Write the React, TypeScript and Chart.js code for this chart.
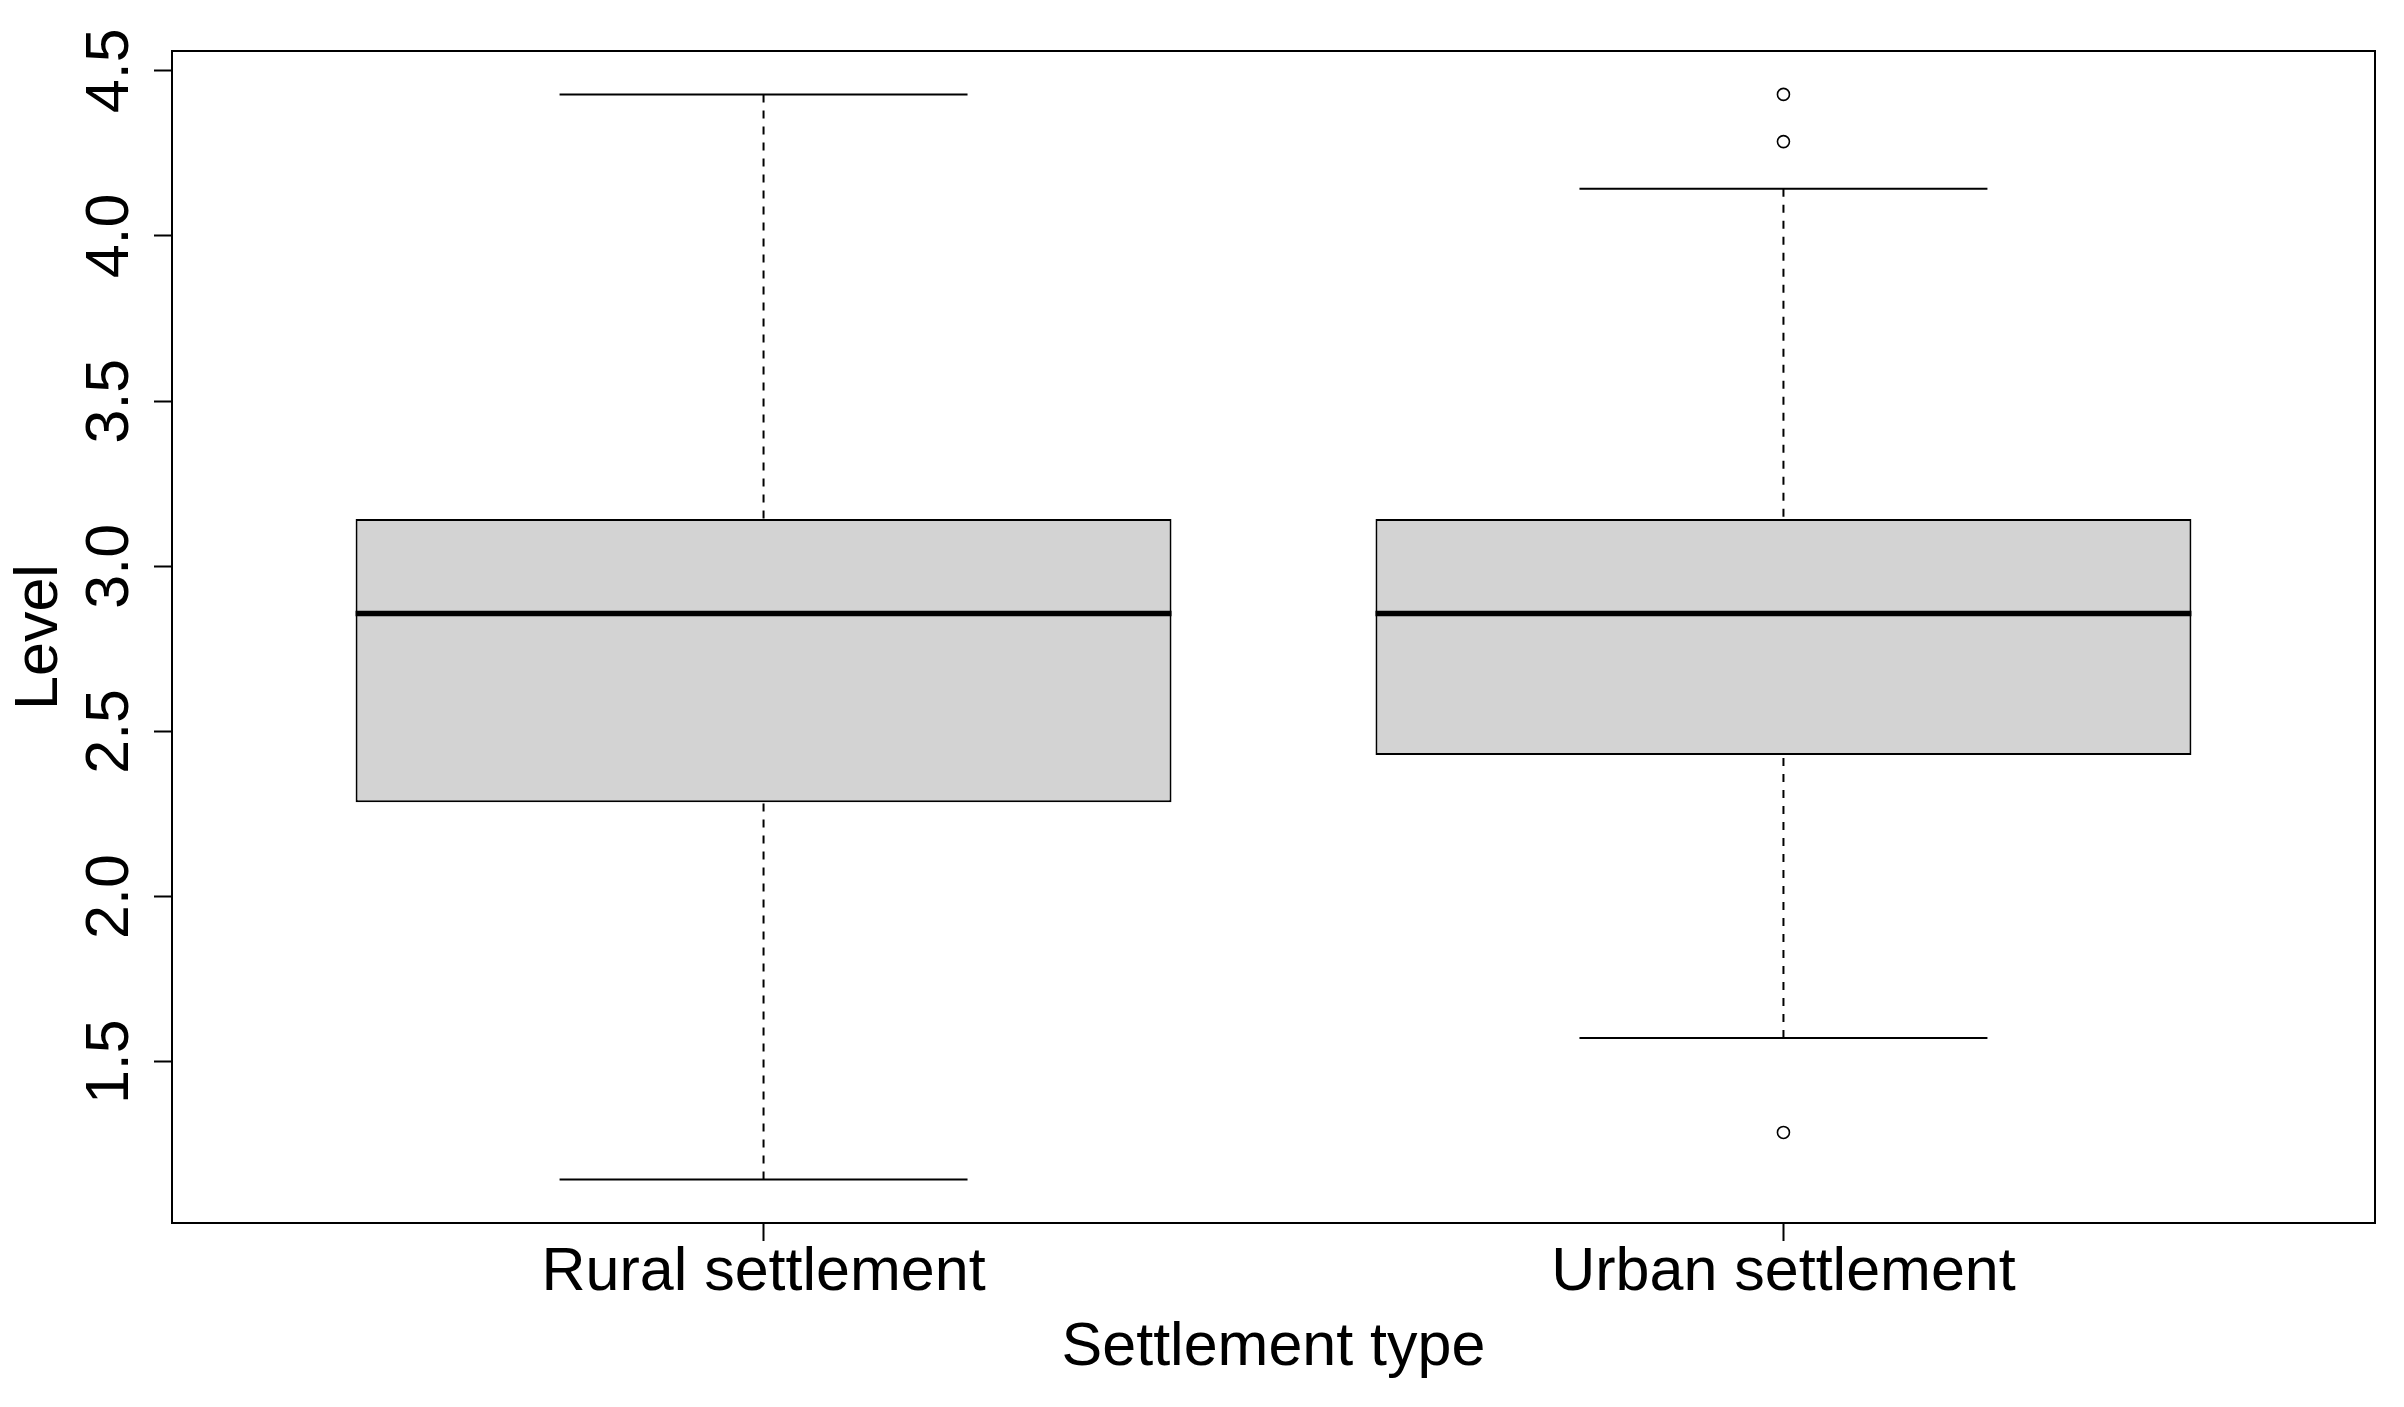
import React, { useEffect, useRef } from "react";
import { Chart, registerables } from "chart.js";

Chart.register(...registerables);

// ---- Data ----
const categories = ["Rural settlement", "Urban settlement"];
const positions = [1, 2];
const whiskerLow = [1.1429, 1.5714];
const q1 = [2.2857, 2.4286];
const median = [2.8571, 2.8571];
const q3 = [3.1429, 3.1429];
const whiskerHigh = [4.4286, 4.1429];
const outlierGroup = [2, 2, 2];
const outlierValues = [4.4286, 4.2857, 1.2857];
const yTickValues = [1.5, 2.0, 2.5, 3.0, 3.5, 4.0, 4.5];
const xTitle = "Settlement type";
const yTitle = "Level";

const FONT = "'Liberation Sans', Arial, sans-serif";
const FONT_SIZE = 61;

const boxPlugin = {
  id: "boxExtras",
  beforeDraw(chart: any) {
    const { ctx } = chart;
    ctx.save();
    ctx.fillStyle = "#ffffff";
    ctx.fillRect(0, 0, chart.width, chart.height);
    ctx.restore();
  },
  beforeDatasetsDraw(chart: any) {
    const { ctx, scales } = chart;
    const xs = scales.x;
    const ys = scales.y;
    ctx.save();
    ctx.strokeStyle = "#000";
    ctx.lineWidth = 2;
    for (let i = 0; i < positions.length; i++) {
      const x = xs.getPixelForValue(positions[i]);
      const half = xs.getPixelForValue(positions[i] + 0.2) - x;
      // dashed whiskers (from whisker end to hinge)
      ctx.setLineDash([8, 8]);
      ctx.beginPath();
      ctx.moveTo(x, ys.getPixelForValue(whiskerLow[i]));
      ctx.lineTo(x, ys.getPixelForValue(q1[i]));
      ctx.moveTo(x, ys.getPixelForValue(whiskerHigh[i]));
      ctx.lineTo(x, ys.getPixelForValue(q3[i]));
      ctx.stroke();
      // staples
      ctx.setLineDash([]);
      ctx.beginPath();
      const yl = ys.getPixelForValue(whiskerLow[i]);
      const yh = ys.getPixelForValue(whiskerHigh[i]);
      ctx.moveTo(x - half, yl);
      ctx.lineTo(x + half, yl);
      ctx.moveTo(x - half, yh);
      ctx.lineTo(x + half, yh);
      ctx.stroke();
    }
    ctx.restore();
  },
  afterDatasetsDraw(chart: any) {
    const { ctx, scales, chartArea } = chart;
    const xs = scales.x;
    const ys = scales.y;
    ctx.save();
    // medians
    ctx.strokeStyle = "#000";
    ctx.lineWidth = 5.5;
    ctx.lineCap = "butt";
    for (let i = 0; i < positions.length; i++) {
      const x0 = xs.getPixelForValue(positions[i] - 0.4);
      const x1 = xs.getPixelForValue(positions[i] + 0.4);
      const y = ys.getPixelForValue(median[i]);
      ctx.beginPath();
      ctx.moveTo(x0, y);
      ctx.lineTo(x1, y);
      ctx.stroke();
    }
    // frame
    ctx.lineWidth = 2;
    ctx.strokeRect(
      chartArea.left,
      chartArea.top,
      chartArea.right - chartArea.left,
      chartArea.bottom - chartArea.top
    );
    // text
    ctx.fillStyle = "#000";
    ctx.font = `${FONT_SIZE}px ${FONT}`;
    ctx.textAlign = "center";
    ctx.textBaseline = "alphabetic";
    for (let i = 0; i < categories.length; i++) {
      ctx.fillText(categories[i], xs.getPixelForValue(positions[i]), 1290);
    }
    ctx.fillText(xTitle, (chartArea.left + chartArea.right) / 2, 1365);
    // rotated y tick labels
    for (const v of yTickValues) {
      const y = ys.getPixelForValue(v);
      ctx.save();
      ctx.translate(128, y);
      ctx.rotate(-Math.PI / 2);
      ctx.fillText(v.toFixed(1), 0, 0);
      ctx.restore();
    }
    ctx.save();
    ctx.translate(57, (chartArea.top + chartArea.bottom) / 2);
    ctx.rotate(-Math.PI / 2);
    ctx.fillText(yTitle, 0, 0);
    ctx.restore();
    ctx.restore();
  },
};

export default function App() {
  const ref = useRef<HTMLCanvasElement | null>(null);
  useEffect(() => {
    if (!ref.current) return;
    const allVals = [...whiskerLow, ...whiskerHigh, ...outlierValues];
    const lo = Math.min(...allVals);
    const hi = Math.max(...allVals);
    const pad = (hi - lo) * 0.04;
    const chart = new Chart(ref.current, {
      type: "bar",
      data: {
        datasets: [
          {
            type: "bar",
            data: positions.map((p, i) => ({ x: p, y: [q1[i], q3[i]] })) as any,
            backgroundColor: "#d3d3d3",
            borderColor: "#000000",
            borderWidth: 2,
            borderSkipped: false,
            barPercentage: 1,
            categoryPercentage: 0.8,
          } as any,
          {
            type: "scatter",
            data: outlierGroup.map((g, i) => ({ x: g, y: outlierValues[i] })),
            pointStyle: "circle",
            pointRadius: 6,
            pointBorderWidth: 1.6,
            pointBorderColor: "#000000",
            pointBackgroundColor: "rgba(0,0,0,0)",
            showLine: false,
          } as any,
        ],
      },
      options: {
        responsive: false,
        animation: false,
        events: [],
        layout: { padding: { top: 51, right: 29, left: 0, bottom: 0 } },
        plugins: { legend: { display: false }, tooltip: { enabled: false } },
        scales: {
          x: {
            type: "linear",
            min: 0.42,
            max: 2.58,
            offset: false,
            afterBuildTicks: (s: any) => {
              s.ticks = positions.map((p) => ({ value: p }));
            },
            afterFit: (s: any) => {
              s.height = 184;
            },
            ticks: { display: false },
            grid: {
              offset: false,
              drawOnChartArea: false,
              drawTicks: true,
              tickLength: 18,
              tickWidth: 2,
              tickColor: "#000",
            },
            border: { display: false },
          },
          y: {
            type: "linear",
            min: lo - pad,
            max: hi + pad,
            afterBuildTicks: (s: any) => {
              s.ticks = yTickValues.map((v) => ({ value: v }));
            },
            afterFit: (s: any) => {
              s.width = 172;
            },
            ticks: { display: false },
            grid: {
              drawOnChartArea: false,
              drawTicks: true,
              tickLength: 18,
              tickWidth: 2,
              tickColor: "#000",
            },
            border: { display: false },
          },
        },
      } as any,
      plugins: [boxPlugin],
    });
    return () => chart.destroy();
  }, []);
  return (
    <div style={{ position: "fixed", left: 0, top: 0, width: 2404, height: 1407, background: "#fff" }}>
      <canvas ref={ref} width={2404} height={1407} style={{ width: 2404, height: 1407, display: "block" }} />
    </div>
  );
}
